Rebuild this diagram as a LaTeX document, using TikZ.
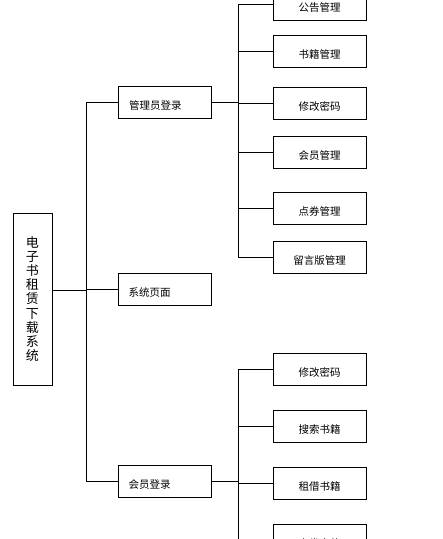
\documentclass[tikz,border=0pt]{standalone}
\usepackage{fontspec}
\setmainfont{Noto Sans CJK SC}
\usepackage{tikz}
\usetikzlibrary{positioning,calc}

\begin{document}
\begin{tikzpicture}[x=1pt, y=-1pt, line width=0.9pt,
  every node/.style={font=\fontsize{10.5}{12}\selectfont},
  box/.style={draw, minimum width=93pt, minimum height=32pt, inner sep=0pt, text height=15pt, text depth=1pt},
  topbox/.style={box, text width=72pt, align=left}]
\useasboundingbox (0,0) rectangle (443,539);
\clip (0,0) rectangle (443,539);
\fill[white] (0,0) rectangle (443,539);

% root
\node[draw, minimum width=39pt, minimum height=172pt, inner sep=0pt, align=center,
  font=\fontsize{13}{14.1}\selectfont] (root) at (32.5,299)
  {电\\子\\书\\租\\赁\\下\\载\\系\\统};

% first level
\node[topbox] (admin) at (165,102) {管理员登录};
\node[topbox] (sys) at (164.5,289) {系统页面};
\node[topbox] (member) at (164.5,481) {会员登录};

% admin side
\node[box] (a1) at (319.5,4) {公告管理};
\node[box, below=15pt of a1] (a2) {书籍管理};
\node[box, below=19pt of a2] (a3) {修改密码};
\node[box, below=16pt of a3] (a4) {会员管理};
\node[box, below=23pt of a4] (a5) {点券管理};
\node[box, below=16pt of a5] (a6) {留言版管理};

% member side
\node[box] (m1) at (319.5,369) {修改密码};
\node[box, below=25pt of m1] (m2) {搜索书籍};
\node[box, below=24pt of m2] (m3) {租借书籍};
\node[box, below=24pt of m3] (m4) {点券充值};

% connectors
\coordinate (rj) at (86,290);
\coordinate (aj) at (238,102);
\coordinate (mj) at (238,481);
\draw (root.east |- rj) -- (rj);
\foreach \n in {admin,sys,member}
  \draw (rj) |- (\n.west);
\draw (admin.east) -- (aj);
\foreach \n in {a1,a2,a3,a4,a5,a6}
  \draw (aj) |- (\n.west);
\draw (member.east) -- (mj);
\foreach \n in {m1,m2,m3,m4}
  \draw (mj) |- (\n.west);
\draw (mj) -- (238,545);
\end{tikzpicture}
\end{document}
